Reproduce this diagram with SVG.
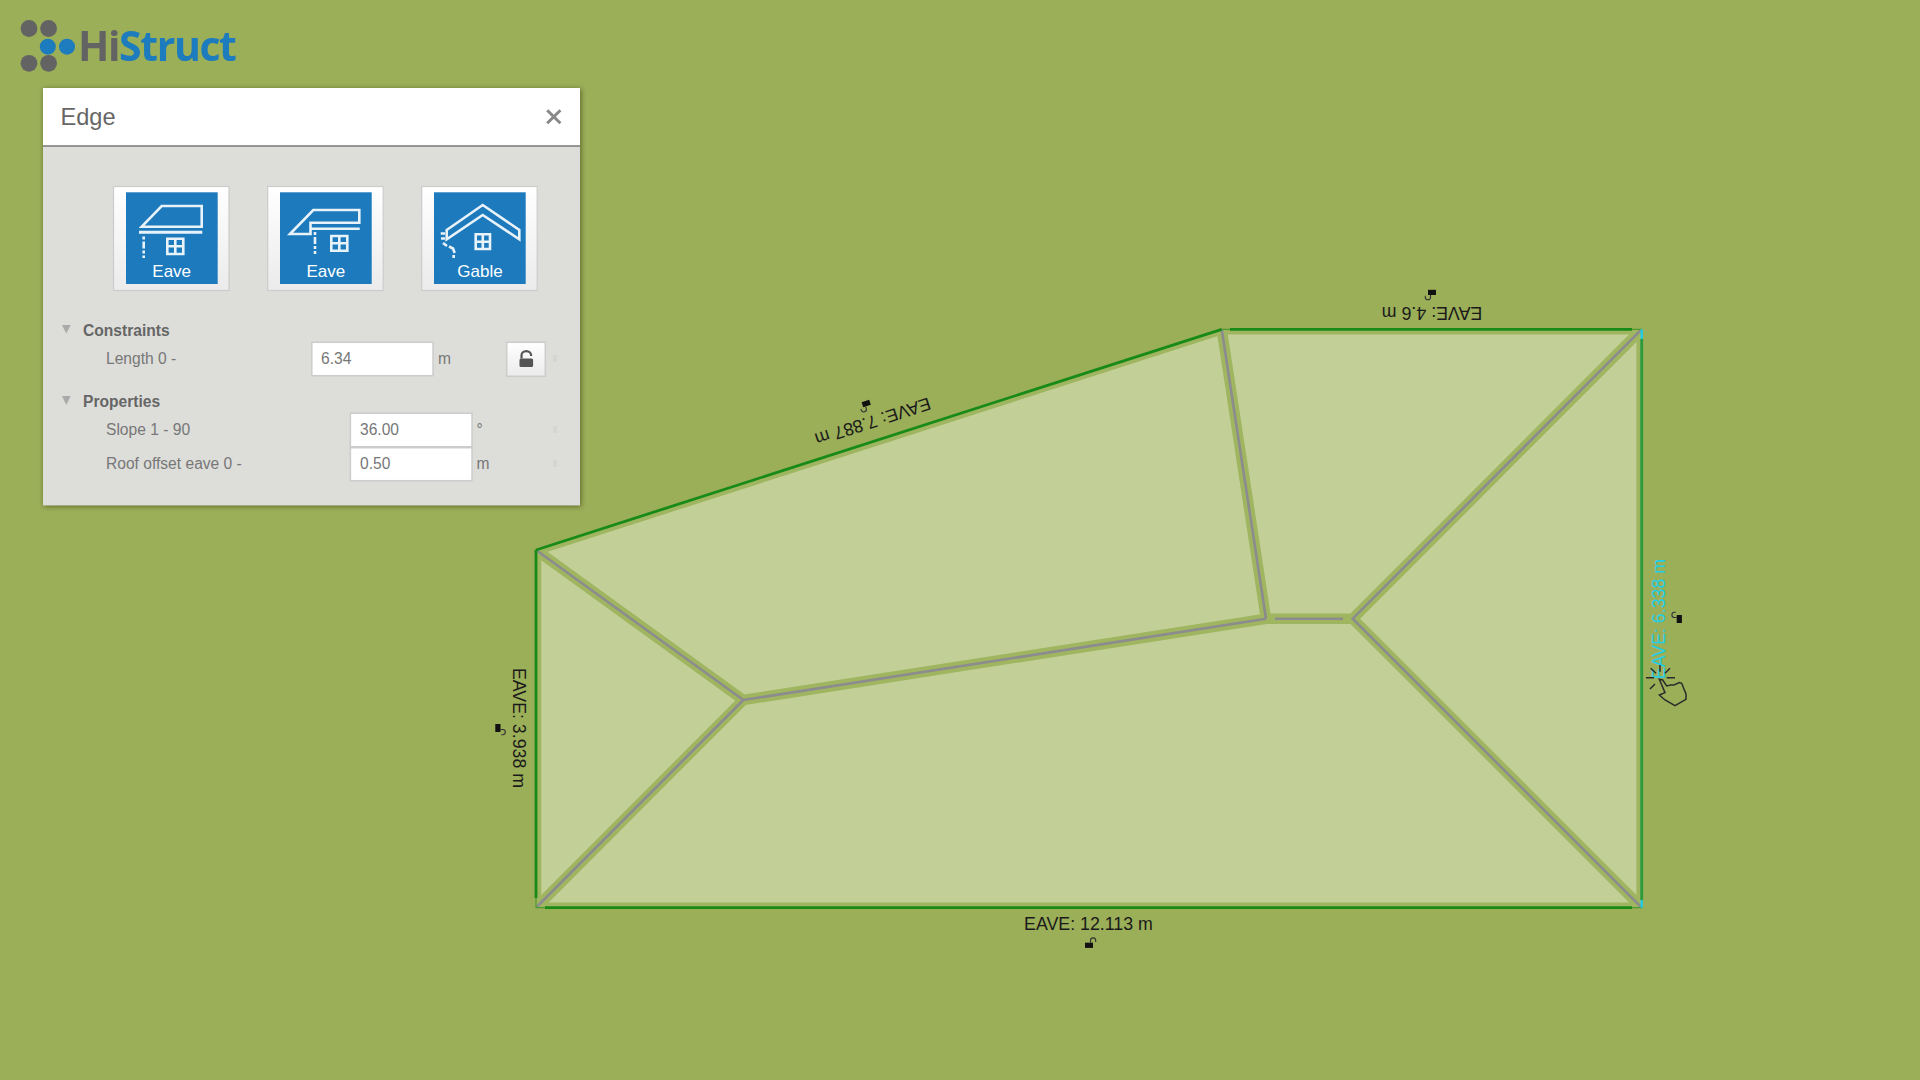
<svg xmlns="http://www.w3.org/2000/svg" xmlns:xlink="http://www.w3.org/1999/xlink" width="1920" height="1080" viewBox="0 0 1920 1080">
<style>
text{font-family:"Liberation Sans",Arial,sans-serif}
.dim{font-size:17.8px;fill:#1a1a1a;text-anchor:middle}
.lab{font-size:15.6px;fill:#777}
.hd{font-size:15.6px;fill:#666;font-weight:bold}
.val{font-size:15.6px;fill:#777}
.inp{fill:#fff;stroke:#ccc;stroke-width:1.5}
.tile{fill:url(#tg);stroke:#ccc;stroke-width:1.2}
.blue{fill:#1c7abd}
.ico{fill:none;stroke:#e8f2f9;stroke-width:2.6}
.tl{font-size:17px;fill:#fff;text-anchor:middle}
.rid{stroke:#9fb55f;stroke-width:10.5;fill:none}
.rid2{stroke:#8b8b90;stroke-width:2.6;fill:none}
.edge{stroke:#178a17;stroke-width:2.8;fill:none}
</style>
<defs>
<linearGradient id="tg" x1="0" y1="0" x2="0" y2="1"><stop offset="0" stop-color="#fff"/><stop offset="1" stop-color="#ebebeb"/></linearGradient>
<filter id="sh" x="-5%" y="-5%" width="110%" height="110%"><feDropShadow dx="1" dy="1" stdDeviation="2.5" flood-color="#2a3010" flood-opacity="0.6"/></filter>
<filter id="bl"><feGaussianBlur stdDeviation="0.6"/></filter>
<clipPath id="roofclip"><polygon points="536,550 1221.7,329.3 1641.7,329.3 1641.7,907.7 536,907.7"/></clipPath>
<g id="lk"><rect x="-4" y="0" width="8" height="5.2" fill="#111"/><path d="M1.5 0V-2.2a2.6 2.6 0 0 1 5.2 0V-.8" fill="none" stroke="#333" stroke-width="1.1"/></g>
</defs>
<rect width="1920" height="1080" fill="#9bae58"/>

<g id="logo" filter="url(#bl)">
<g fill="#646464"><circle cx="29" cy="28.5" r="8.4"/><circle cx="48.6" cy="28.5" r="8.4"/><circle cx="29" cy="63.3" r="8.4"/><circle cx="48.6" cy="63.3" r="8.4"/></g>
<g fill="#1b7bbd"><circle cx="47.8" cy="46.7" r="8"/><circle cx="67" cy="46.7" r="8"/></g>
<text x="78" y="61" font-size="41" font-weight="700" letter-spacing="-1.4" style="font-family:'Open Sans',sans-serif"><tspan fill="#646464">Hi</tspan><tspan fill="#1b7bbd">Struct</tspan></text>
</g>

<g id="panel">
<rect x="43" y="88" width="537" height="417.3" fill="#dddeda" filter="url(#sh)"/>
<rect x="43" y="88" width="537" height="58" fill="#fff"/>
<line x1="43" y1="146" x2="580" y2="146" stroke="#777" stroke-width="1.5"/>
<text x="60.5" y="125" font-size="23.6" fill="#666">Edge</text>
<path d="M547.2 110.2L560.4 123.2M560.4 110.2L547.2 123.2" stroke="#888" stroke-width="3" fill="none"/>

<g id="tile-eave-1">
<rect class="tile" x="113.5" y="186.5" width="115.5" height="104"/>
<rect class="blue" x="126" y="192.3" width="91.7" height="91.7"/>
<path class="ico" d="M141.7 226.7L161.7 206H201.7V226.7Z"/>
<line class="ico" x1="139" y1="232.3" x2="202.3" y2="232.3" style="stroke-width:3"/>
<path class="ico" d="M143.7 236.5V258" stroke-dasharray="3 2 7 2"/>
<path class="ico" d="M167.3 238.7H183.3V254H167.3ZM175.3 238.7V254M167.3 246.3H183.3"/>
<text class="tl" x="171.7" y="276.7">Eave</text>
</g>
<g id="tile-eave-2">
<rect class="tile" x="267.7" y="186.5" width="115.5" height="104"/>
<rect class="blue" x="280" y="192.3" width="91.7" height="91.7"/>
<path class="ico" d="M290 234L313.3 210H359.3V222.7H310.5L310.5 234Z"/>
<line class="ico" x1="310" y1="228.7" x2="359.7" y2="228.7"/>
<path class="ico" d="M315 232V254" stroke-dasharray="3 2 7 2"/>
<path class="ico" d="M331.3 236H347.3V250.7H331.3ZM339.3 236V250.7M331.3 243.3H347.3"/>
<text class="tl" x="325.8" y="276.7">Eave</text>
</g>
<g id="tile-gable">
<rect class="tile" x="421.7" y="186.5" width="115.5" height="104"/>
<rect class="blue" x="434" y="192.3" width="91.7" height="91.7"/>
<path class="ico" d="M446.7 230L482.7 205L519.3 230V239.3L482.7 215L446.7 239.3Z"/>
<path class="ico" d="M440.7 233.5H445M441 238.5H445M443 243L447 246M449 246.5L453 248.5L454.7 253M453.7 255V258" stroke-width="2.4"/>
<path class="ico" d="M475.7 234.3H490V249H475.7ZM482.8 234.3V249M475.7 241.7H490"/>
<text class="tl" x="480" y="276.7">Gable</text>
</g>

<path d="M62 325H70.7L66.3 333.5Z" fill="#aaa"/>
<text class="hd" x="83" y="336">Constraints</text>
<text class="lab" x="106" y="364">Length 0 -</text>
<rect class="inp" x="311.8" y="342.3" width="121.2" height="33.4"/>
<text class="val" x="321" y="364">6.34</text>
<text class="lab" x="438" y="364">m</text>
<rect x="506.7" y="342.3" width="38.6" height="34" fill="url(#tg)" stroke="#ccc" stroke-width="1.5"/>
<rect x="519.5" y="358.5" width="13.6" height="8.5" rx="1.5" fill="#555"/>
<path d="M521.5 358.5V355.5a4.8 4.4 0 0 1 9.6 0V356" fill="none" stroke="#555" stroke-width="2.2"/>
<path d="M62 396H70.7L66.3 405Z" fill="#aaa"/>
<text class="hd" x="83" y="406.7">Properties</text>
<text class="lab" x="106" y="435">Slope 1 - 90</text>
<rect class="inp" x="350.4" y="413.3" width="121.6" height="33.4"/>
<text class="val" x="360" y="435">36.00</text>
<text class="lab" x="476.5" y="435">°</text>
<text class="lab" x="106" y="468.7">Roof offset eave 0 -</text>
<rect class="inp" x="350.4" y="447.7" width="121.6" height="33"/>
<text class="val" x="360" y="468.7">0.50</text>
<text class="lab" x="476.5" y="468.7">m</text>
<g fill="#d5d6d2"><rect x="553" y="355" width="4" height="7"/><rect x="553" y="426" width="4" height="7"/><rect x="553" y="460" width="4" height="7"/></g>
</g>

<g id="roof">
<polygon id="roof-fill" points="536,550 1221.7,329.3 1641.7,329.3 1641.7,907.7 536,907.7" fill="#c2cf97"/>
</g>
<g id="connectors">
<g clip-path="url(#roofclip)">
<polygon class="rid" points="536,550 1221.7,329.3 1641.7,329.3 1641.7,907.7 536,907.7"/>
<path class="rid" d="M536 550L743.3 700L1266 618.7H1352.7L1641.7 329.3M1221.7 329.3L1266 618.7M536 907.7L743.3 700M1352.7 618.7L1641.7 907.7"/>
<path class="rid2" d="M536 550L743.3 700L1266 618.7M1275 618.7H1343M1641.7 329.3L1352.7 618.7L1641.7 907.7M1221.7 329.3L1266 618.7M536 907.7L743.3 700"/>
</g>
<polygon points="536,550 1221.7,329.3 1641.7,329.3 1641.7,907.7 536,907.7" fill="none" stroke="#4f9a30" stroke-width="1.2"/>
<path class="edge" d="M536 550L1221.7 329.3"/>
<path class="edge" d="M1230 329.3H1632"/>
<path class="edge" d="M536 550V898"/>
<path class="edge" d="M545 907.7H1632"/>
<path d="M1641.7 339V900" stroke="#2a9a3c" stroke-width="2.8" fill="none"/>
<path d="M1641.7 329.3V339M1641.7 900V907.7" stroke="#22cce6" stroke-width="2.4" fill="none"/>
</g>

<g id="label-top"><text class="dim" transform="rotate(180 1432 307.3)" x="1432" y="307.3">EAVE: 4.6 m</text><use xlink:href="#lk" href="#lk" transform="translate(1432 295) rotate(180)"/></g>
<g id="label-diag"><text class="dim" transform="rotate(162.16 871 415.7)" x="871" y="415.7">EAVE: 7.887 m</text><use xlink:href="#lk" href="#lk" transform="translate(867 406) rotate(162)"/></g>
<g id="label-left"><text class="dim" transform="rotate(90 513 728)" x="513" y="728">EAVE: 3.938 m</text><use xlink:href="#lk" href="#lk" transform="translate(500.5 728) rotate(90)"/></g>
<g id="label-bottom"><text class="dim" x="1088.5" y="930">EAVE: 12.113 m</text><use xlink:href="#lk" href="#lk" transform="translate(1089 942.7)"/></g>
<g id="label-right"><text class="dim" style="fill:#1ecfe8" transform="rotate(-90 1664.5 619)" x="1664.5" y="619">EAVE: 6.338 m</text><use xlink:href="#lk" href="#lk" transform="translate(1676.7 619) rotate(-90)"/></g>

<g id="cursor" transform="translate(1600 540) scale(0.3333)" fill="none" stroke="#2b2b2b" stroke-width="4.5">
<path d="M138 413H162M200 413H225M180 375V395M152 385L168 400M210 385L195 400M150 447L165 432"/>
<path d="M178 418L188 420L200 438L212 435L222 435L238 428L245 430L258 462L258 478L225 497L195 480L178 465L195 458Z"/>
</g>
</svg>
